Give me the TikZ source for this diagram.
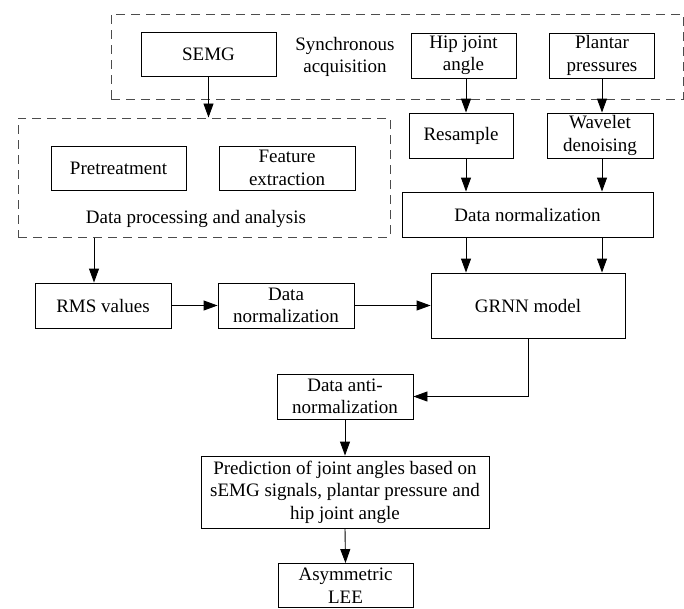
\documentclass[tikz,border=0pt]{standalone}
\usepackage{fontspec}
\setmainfont{Liberation Serif}
\usetikzlibrary{arrows.meta}
\begin{document}
\begin{tikzpicture}[x=1pt,y=-1pt,
  every node/.style={font=\fontsize{19}{22.5}\selectfont, inner sep=0pt, align=center},
  bx/.style={draw, line width=0.9pt, minimum width=#1, fill=white},
  dbox/.style={draw=black!70, line width=1pt, dash pattern=on 9pt off 6pt},
  arr/.style={line width=0.9pt, -{Triangle[length=14pt,width=10pt]}},
  ln/.style={line width=0.9pt}]
\useasboundingbox (0,0) rectangle (684,608);
% dashed groups
\node[dbox, minimum width=572pt, minimum height=85pt] (dbox1) at (397,56.5) {};
\node[dbox, minimum width=372pt, minimum height=119pt] (dbox2) at (204,177.5) {};
% top row
\node[bx=135pt, minimum height=44pt] (semg) at (208.5,54) {SEMG};
\node (sync) at (345,57) {Synchronous\\acquisition};
\node[bx=105pt, minimum height=45pt] (hip) at (463.5,55.5) {Hip joint\\angle};
\node[bx=105pt, minimum height=45pt] (plan) at (602,55.5) {Plantar\\pressures};
% processing
\node[bx=135pt, minimum height=44pt] (pre) at (118.5,168) {Pretreatment};
\node[bx=136pt, minimum height=44pt] (feat) at (287,168) {Feature\\extraction};
\node (dpa) at (196,219) {Data processing and analysis};
\node[bx=104pt, minimum height=45pt] (res) at (461,135.5) {Resample};
\node[bx=106pt, minimum height=45pt] (wav) at (600,135.5) {Wavelet\\denoising};
\node[bx=251pt, minimum height=45pt] (dn) at (527.5,214.5) {Data normalization};
% middle row
\node[bx=136pt, minimum height=45pt] (rms) at (103,305.5) {RMS values};
\node[bx=136pt, minimum height=45pt] (dn2) at (286,305.5) {Data\\normalization};
\node[bx=194pt, minimum height=65pt] (grnn) at (528,305.5) {GRNN model};
% bottom
\node[bx=136pt, minimum height=45pt] (dan) at (345,396.5) {Data anti-\\normalization};
\node[bx=288pt, minimum height=72pt] (pred) at (345,492) {Prediction of joint angles based on\\sEMG signals, plantar pressure and\\hip joint angle};
\node[bx=135pt, minimum height=44pt] (lee) at (345.5,585.5) {Asymmetric\\LEE};
% column coordinates
\coordinate (xa) at (466,0);
\coordinate (xb) at (602,0);
\coordinate (xc) at (94,0);
% connectors
\draw[arr] (semg.south) -- (semg.south |- dbox2.north);
\draw[arr] (hip.south -| xa) -- (res.north -| xa);
\draw[arr] (plan.south -| xb) -- (wav.north -| xb);
\draw[arr] (res.south -| xa) -- (dn.north -| xa);
\draw[arr] (wav.south -| xb) -- (dn.north -| xb);
\draw[arr] (dn.south -| xa) -- (grnn.north -| xa);
\draw[arr] (dn.south -| xb) -- (grnn.north -| xb);
\draw[arr] (dbox2.south -| xc) -- (rms.north -| xc);
\draw[arr] (rms.east) -- (dn2.west);
\draw[arr] (dn2.east) -- (grnn.west);
\draw[arr] (grnn.south) |- (dan.east);
\draw[arr] (dan.south) -- (pred.north);
\draw[arr] (pred.south) -- (lee.north);
\end{tikzpicture}
\end{document}
